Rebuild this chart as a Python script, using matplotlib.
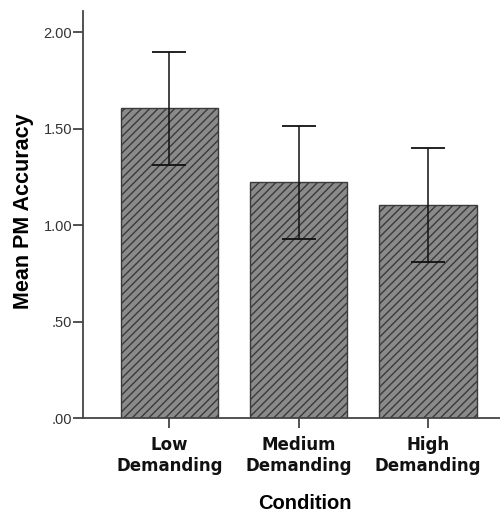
import matplotlib
matplotlib.use("Agg")
import matplotlib.pyplot as plt
import numpy as np

categories = ["Low\nDemanding", "Medium\nDemanding", "High\nDemanding"]
means = [1.605, 1.221, 1.105]
ci_low = [1.312, 0.927, 0.808]
ci_high = [1.898, 1.513, 1.400]
yticks = [0.0, 0.5, 1.0, 1.5, 2.0]
yticklabels = [".00", ".50", "1.00", "1.50", "2.00"]

plt.rcParams['hatch.linewidth'] = 1.0
plt.rcParams['hatch.color'] = '#2e2e2e'

fig = plt.figure(figsize=(5.0, 5.14), dpi=100)
ax_left = 83.3 / 500
ax_w = 1 - ax_left
ax = fig.add_axes([ax_left, (514-418)/514, ax_w, (418-11)/514])

x = np.arange(len(categories))
means_a = np.array(means)
yerr = np.vstack([means_a - np.array(ci_low), np.array(ci_high) - means_a])

ax.bar(x, means, width=0.755, color='#8a8a8a', edgecolor='#3a3a3a',
       linewidth=1.0, hatch='////', zorder=2)
ax.errorbar(x, means, yerr=yerr, fmt='none', ecolor='#111111',
            elinewidth=1.1, capsize=12, capthick=1.3, zorder=3)

ax.set_xlim(-0.667, 2.558)
ax.set_ylim(0, 2.109)
ax.set_yticks(yticks)
ax.set_yticklabels(yticklabels, fontsize=10.5, family='Liberation Sans', color='#333333')
ax.set_xticks(x)
ax.set_xticklabels(categories, fontsize=12, family='DejaVu Sans', fontweight='bold',
                   linespacing=1.2, color='#111111')

for side in ['top', 'right']:
    ax.spines[side].set_visible(False)
for side in ['left', 'bottom']:
    ax.spines[side].set_linewidth(1.3)
    ax.spines[side].set_color('#444444')

ax.tick_params(axis='y', length=7, width=1.3, color='#444444', pad=1)
ax.tick_params(axis='x', length=7, width=1.3, color='#444444', pad=6)

ax.set_ylabel("Mean PM Accuracy", fontsize=15.5, family='Liberation Sans',
              fontweight='bold')
ax.set_xlabel("Condition", fontsize=14.5, family='Liberation Sans',
              fontweight='bold')
ax.yaxis.set_label_coords((34 - 83.3) / (500 * ax_w), (418 - 211.5) / 407)
ax.xaxis.set_label_coords((304.5 - 83.3) / (500 * ax_w), -(509 - 418) / 407)
ax.xaxis.label.set_va('baseline')

fig.savefig("out.png", dpi=100)
